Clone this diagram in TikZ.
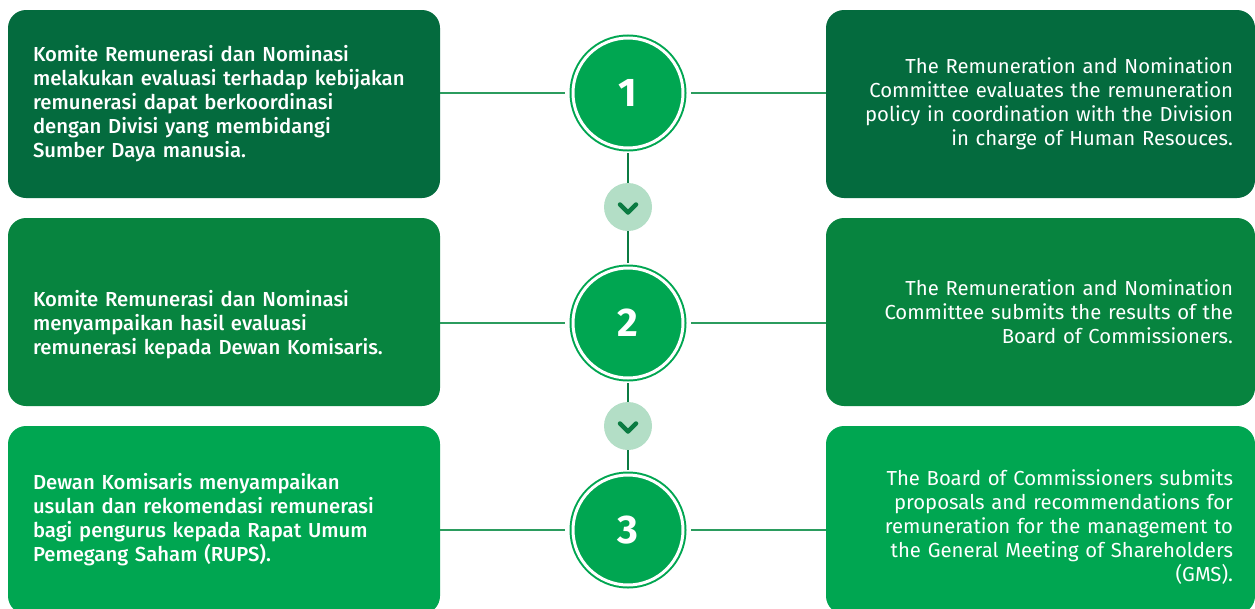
\documentclass[tikz,border=0pt]{standalone}
\usepackage{fontspec}
\setmainfont{Fira Sans}[BoldFont={Fira Sans Medium}]
\newfontfamily\stepfont{Fira Sans}
\usetikzlibrary{positioning}
\definecolor{remdark}{HTML}{046B3E}
\definecolor{remmid}{HTML}{07843F}
\definecolor{remlight}{HTML}{00A651}
\definecolor{remline}{HTML}{2B9C5E}
\definecolor{remchev}{HTML}{0B7B42}
\definecolor{rempale}{HTML}{B3DEC6}
\tikzset{
  lbox/.style={rounded corners=18pt,minimum width=432pt,minimum height=188pt,text width=382pt,inner sep=0pt,align=left,text=white,font=\fontsize{20.3}{24}\selectfont\bfseries},
  rbox/.style={lbox,minimum width=429pt,text width=385pt,align=right,font=\fontsize{20.3}{24}\selectfont},
  stepc/.style={circle,fill=remlight,draw=remlight,line width=2pt,double=white,double distance=3pt,minimum size=110pt,outer sep=0pt,text=white,font=\stepfont\fontsize{40}{40}\selectfont\bfseries},
  chevc/.style={circle,fill=rempale,minimum size=48pt,inner sep=0pt,outer sep=0pt},
  chev/.style={draw=remchev,line width=4.5pt,line cap=round,line join=round},
  hline/.style={draw=remline,line width=1.5pt},
  vline/.style={draw=remchev,line width=2.5pt},
}
\begin{document}
\begin{tikzpicture}[x=1pt,y=-1pt]
    \useasboundingbox (0,0) rectangle (1255,608);
    \node[lbox,fill=remdark] (l1) at (224,104) {Komite Remunerasi dan Nominasi\\melakukan evaluasi terhadap kebijakan\\remunerasi dapat berkoordinasi\\dengan Divisi yang membidangi\\Sumber Daya manusia.};
    \node[lbox,fill=remmid,text depth=28pt] (l2) at (224,312) {Komite Remunerasi dan Nominasi\\menyampaikan hasil evaluasi\\remunerasi kepada Dewan Komisaris.};
    \node[lbox,fill=remlight] (l3) at (224,520) {Dewan Komisaris menyampaikan\\usulan dan rekomendasi remunerasi\\bagi pengurus kepada Rapat Umum\\Pemegang Saham (RUPS).};
    \node[rbox,fill=remdark] (r1) at (1040.5,104) {The Remuneration and Nomination\\Committee evaluates the remuneration\\policy in coordination with the Division\\in charge of Human Resouces.};
    \node[rbox,fill=remmid] (r2) at (1040.5,312) {The Remuneration and Nomination\\Committee submits the results of the\\Board of Commissioners.};
    \node[rbox,fill=remlight,text height=30pt] (r3) at (1040.5,520) {The Board of Commissioners submits\\proposals and recommendations for\\remuneration for the management to\\the General Meeting of Shareholders\\(GMS).};
    \node[stepc] (c1) at (628,93) {1};
    \node[stepc] (c2) at (628,323) {2};
    \node[stepc] (c3) at (628,530) {3};
    \node[chevc] (v1) at (628,207) {};
    \node[chevc] (v2) at (628,426) {};
    \draw[chev] ([xshift=-8pt,yshift=2.5pt]v1.center) -- ([yshift=-5.5pt]v1.center) -- ([xshift=8pt,yshift=2.5pt]v1.center);
    \draw[chev] ([xshift=-8pt,yshift=2.5pt]v2.center) -- ([yshift=-5.5pt]v2.center) -- ([xshift=8pt,yshift=2.5pt]v2.center);
    \draw[hline,shorten >=8pt] (l1.east |- c1) -- (c1);\draw[hline,shorten >=8pt] (r1.west |- c1) -- (c1);
    \draw[hline,shorten >=8pt] (l2.east |- c2) -- (c2);\draw[hline,shorten >=8pt] (r2.west |- c2) -- (c2);
    \draw[hline,shorten >=8pt] (l3.east |- c3) -- (c3);\draw[hline,shorten >=8pt] (r3.west |- c3) -- (c3);
    \draw[vline,shorten <=5pt] (c1) -- (v1);\draw[vline,shorten >=5pt] (v1) -- (c2);
    \draw[vline,shorten <=5pt] (c2) -- (v2);\draw[vline,shorten >=5pt] (v2) -- (c3);
  \end{tikzpicture}
\end{document}
